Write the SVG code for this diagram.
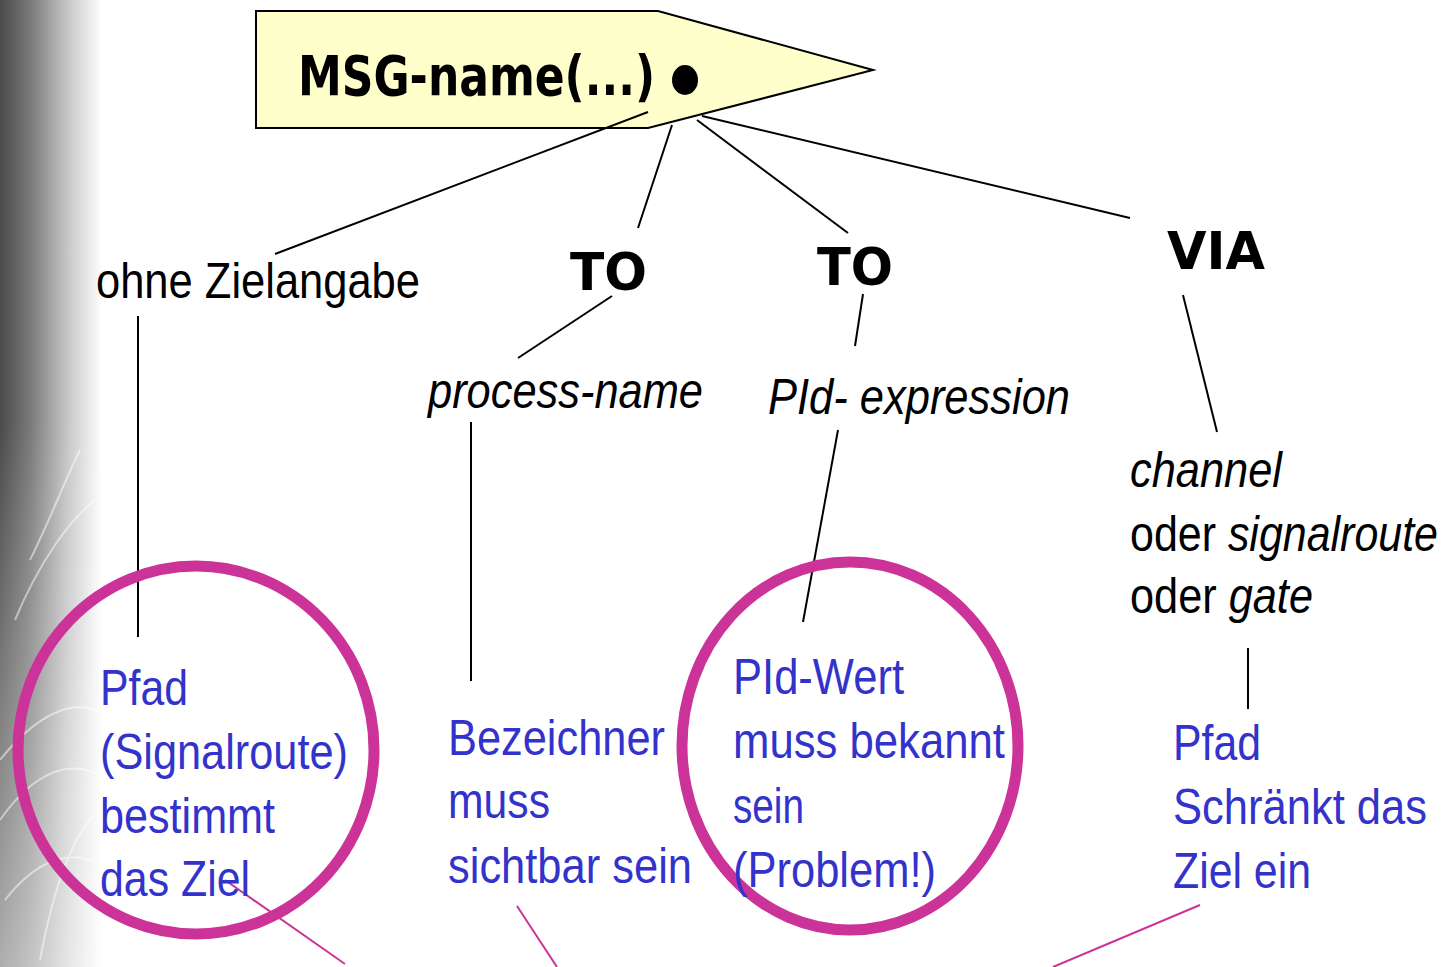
<svg xmlns="http://www.w3.org/2000/svg" width="1447" height="967" viewBox="0 0 1447 967">
<defs>
<linearGradient id="bg" x1="0" y1="0" x2="1" y2="0">
<stop offset="0" stop-color="#4a4a4a"/>
<stop offset="0.3" stop-color="#7a7a7a"/>
<stop offset="0.65" stop-color="#c4c4c4"/>
<stop offset="1" stop-color="#ffffff"/>
</linearGradient>
<linearGradient id="fadeV" x1="0" y1="0" x2="0" y2="1">
<stop offset="0" stop-color="#ffffff" stop-opacity="0"/>
<stop offset="1" stop-color="#ffffff" stop-opacity="0.55"/>
</linearGradient>
<style>
.k{stroke:#000;stroke-width:2;fill:none}
.m{stroke:#cc3399;stroke-width:2;fill:none}
.ring{stroke:#cc3399;stroke-width:11;fill:none}
.n{font-family:"Liberation Sans Narrow","Arial Narrow","Liberation Sans",Arial,sans-serif;font-size:50px}
.blk{fill:#000}
.blue{fill:#3333cc}
.it{font-style:italic}
.c{font-family:"Comic Sans MS","DejaVu Sans",sans-serif;font-weight:bold;fill:#000}
</style>
</defs>
<rect width="1447" height="967" fill="#fff"/>
<g id="background">
<rect x="0" y="0" width="102" height="967" fill="url(#bg)"/>
<rect x="0" y="420" width="102" height="547" fill="url(#fadeV)"/>
<g stroke="#ffffff" stroke-width="2" fill="none" opacity="0.5">
<path d="M0,760 C40,710 75,700 100,712"/>
<path d="M0,820 C35,770 70,760 100,775"/>
<path d="M5,900 C40,855 75,850 100,865"/>
<path d="M15,620 C40,560 70,520 95,500"/>
<path d="M40,960 C55,880 75,830 100,810"/>
<path d="M30,560 C50,520 65,480 80,450"/>
</g>
</g>
<g id="msg">
<path d="M256,11 L658,11 L873,70 L648,128 L256,128 Z" fill="#ffffcc" stroke="#000" stroke-width="2"/>
<text class="c" x="298" y="95" font-size="56" textLength="357" lengthAdjust="spacingAndGlyphs">MSG-name(...)</text>
<ellipse cx="685" cy="80" rx="13" ry="15" fill="#000"/>
</g>
<g id="connectors">
<line class="k" x1="648" y1="112" x2="275" y2="254"/>
<line class="k" x1="672" y1="125" x2="638" y2="228"/>
<line class="k" x1="697" y1="120" x2="848" y2="233"/>
<line class="k" x1="702" y1="116" x2="1130" y2="218"/>
<line class="k" x1="138" y1="316" x2="138" y2="637"/>
<line class="k" x1="612" y1="296" x2="518" y2="358"/>
<line class="k" x1="863" y1="294" x2="855" y2="346"/>
<line class="k" x1="1183" y1="295" x2="1217" y2="432"/>
<line class="k" x1="471" y1="422" x2="471" y2="681"/>
<line class="k" x1="838" y1="430" x2="803" y2="622"/>
<line class="k" x1="1248" y1="648" x2="1248" y2="709"/>
<line class="m" x1="225" y1="880" x2="345" y2="964"/>
<line class="m" x1="517" y1="906" x2="557" y2="967"/>
<line class="m" x1="1200" y1="905" x2="1053" y2="967"/>
</g>
<g id="ohne">
<text class="n blk" x="96" y="298" textLength="324" lengthAdjust="spacingAndGlyphs">ohne Zielangabe</text>
</g>
<g id="to1">
<text class="c" x="570" y="290" font-size="52" textLength="77" lengthAdjust="spacingAndGlyphs">TO</text>
</g>
<g id="to2">
<text class="c" x="817" y="285" font-size="52" textLength="76" lengthAdjust="spacingAndGlyphs">TO</text>
</g>
<g id="via">
<text class="c" x="1167" y="269" font-size="52" textLength="98" lengthAdjust="spacingAndGlyphs">VIA</text>
</g>
<g id="process-name">
<text class="n blk it" x="428" y="408" textLength="275" lengthAdjust="spacingAndGlyphs">process-name</text>
</g>
<g id="pid-expression">
<text class="n blk it" x="768" y="414" textLength="302" lengthAdjust="spacingAndGlyphs">PId- expression</text>
</g>
<g id="channel">
<text class="n blk it" x="1130" y="487" textLength="152" lengthAdjust="spacingAndGlyphs">channel</text>
<text class="n blk" x="1130" y="551" textLength="308" lengthAdjust="spacingAndGlyphs">oder <tspan class="it">signalroute</tspan></text>
<text class="n blk" x="1130" y="613" textLength="183" lengthAdjust="spacingAndGlyphs">oder <tspan class="it">gate</tspan></text>
</g>
<g id="pfad-left">
<ellipse class="ring" cx="196" cy="750" rx="178" ry="184"/>
<text class="n blue" x="100" y="705" textLength="88" lengthAdjust="spacingAndGlyphs">Pfad</text>
<text class="n blue" x="100" y="769" textLength="248" lengthAdjust="spacingAndGlyphs">(Signalroute)</text>
<text class="n blue" x="100" y="833" textLength="175" lengthAdjust="spacingAndGlyphs">bestimmt</text>
<text class="n blue" x="100" y="896" textLength="150" lengthAdjust="spacingAndGlyphs">das Ziel</text>
</g>
<g id="bezeichner">
<text class="n blue" x="448" y="755" textLength="217" lengthAdjust="spacingAndGlyphs">Bezeichner</text>
<text class="n blue" x="448" y="818" textLength="102" lengthAdjust="spacingAndGlyphs">muss</text>
<text class="n blue" x="448" y="883" textLength="244" lengthAdjust="spacingAndGlyphs">sichtbar sein</text>
</g>
<g id="pid-wert">
<ellipse class="ring" cx="850" cy="746" rx="168" ry="184"/>
<text class="n blue" x="733" y="694" textLength="171" lengthAdjust="spacingAndGlyphs">PId-Wert</text>
<text class="n blue" x="733" y="758" textLength="272" lengthAdjust="spacingAndGlyphs">muss bekannt</text>
<text class="n blue" x="733" y="823" textLength="71" lengthAdjust="spacingAndGlyphs">sein</text>
<text class="n blue" x="733" y="887" textLength="203" lengthAdjust="spacingAndGlyphs">(Problem!)</text>
</g>
<g id="pfad-right">
<text class="n blue" x="1173" y="760" textLength="88" lengthAdjust="spacingAndGlyphs">Pfad</text>
<text class="n blue" x="1173" y="824" textLength="254" lengthAdjust="spacingAndGlyphs">Schränkt das</text>
<text class="n blue" x="1173" y="888" textLength="138" lengthAdjust="spacingAndGlyphs">Ziel ein</text>
</g>
</svg>
